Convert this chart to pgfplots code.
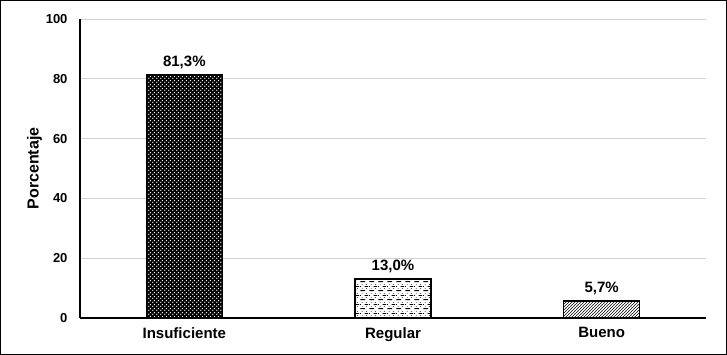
\documentclass[border=0pt]{standalone}
\usepackage{pgfplots}
\pgfplotsset{compat=1.18}
\usepackage{fontspec}
\setmainfont{Liberation Sans}
\usetikzlibrary{patterns,patterns.meta}
\tikzdeclarepattern{name=mydots,type=uncolored,bounding box={(0,0) and (3.6pt,3.6pt)},tile size={(3.6pt,3.6pt)},
  code={\fill (0.9pt,0.9pt) circle (0.75pt); \fill (2.7pt,2.7pt) circle (0.75pt);}}
\tikzdeclarepattern{name=mydash,type=uncolored,bounding box={(0,0) and (9pt,9pt)},tile size={(9pt,9pt)},
  code={\draw[line width=0.9pt] (0.5pt,1.5pt) -- (5.5pt,1.5pt);
        \draw[line width=0.6pt] (2pt,3.75pt) -- (3pt,3.75pt); \draw[line width=0.6pt] (6.5pt,3.75pt) -- (7.5pt,3.75pt);
        \draw[line width=0.9pt] (5pt,6pt) -- (9pt,6pt); \draw[line width=0.9pt] (0pt,6pt) -- (1pt,6pt);
        \draw[line width=0.6pt] (2pt,8.25pt) -- (3pt,8.25pt); \draw[line width=0.6pt] (6.5pt,8.25pt) -- (7.5pt,8.25pt);}}
\tikzdeclarepattern{name=mydiag,type=uncolored,bounding box={(0,0) and (3pt,3pt)},tile size={(3pt,3pt)},
  code={\draw[line width=0.8pt] (-0.5pt,-0.5pt) -- (3.5pt,3.5pt);}}
\begin{document}
\begin{tikzpicture}[x=1pt,y=1pt]
\draw[line width=1pt] (0.5,0.5) rectangle (726.5,354.5);
\begin{axis}[
  at={(80pt,37pt)}, anchor=south west,
  scale only axis, width=626pt, height=299pt,
  xmin=-0.5, xmax=2.5, ymin=0, ymax=100,
  axis x line*=bottom, axis y line*=left,
  axis line style={line width=1.8pt},
  xtick={0,1,2}, xticklabels={Insuficiente,Regular,Bueno},
  ytick={0,20,40,60,80,100},
  major tick length=0pt,
  ymajorgrids, grid style={gray!35, line width=0.8pt},
  tick label style={font=\bfseries\fontsize{13}{15}\selectfont},
  yticklabel style={xshift=-9pt},
  xticklabel style={font=\bfseries\fontsize{15}{17}\selectfont, yshift=-6pt},
  /pgf/number format/assume math mode=true,
  ylabel={\bfseries\fontsize{16}{18}\selectfont Porcentaje},
  ylabel style={yshift=-3pt},
  ybar, bar width=76pt, bar shift=0pt,
  nodes near coords, point meta=explicit symbolic,
  nodes near coords style={font=\bfseries\fontsize{15}{17}\selectfont, yshift=2pt},
  clip=false,
]
\addplot[draw=black, line width=1.3pt, fill=black, postaction={pattern={mydots}, pattern color=white}] coordinates {(0,81.3) [81,3\%]};
\addplot[draw=black, line width=1.3pt, fill=white, postaction={pattern={mydash}, pattern color=black}] coordinates {(1,13.0) [13,0\%]};
\addplot[draw=black, line width=1.3pt, fill=white, postaction={pattern={mydiag}, pattern color=black}] coordinates {(2,5.7) [5,7\%]};
\end{axis}
\end{tikzpicture}
\end{document}
